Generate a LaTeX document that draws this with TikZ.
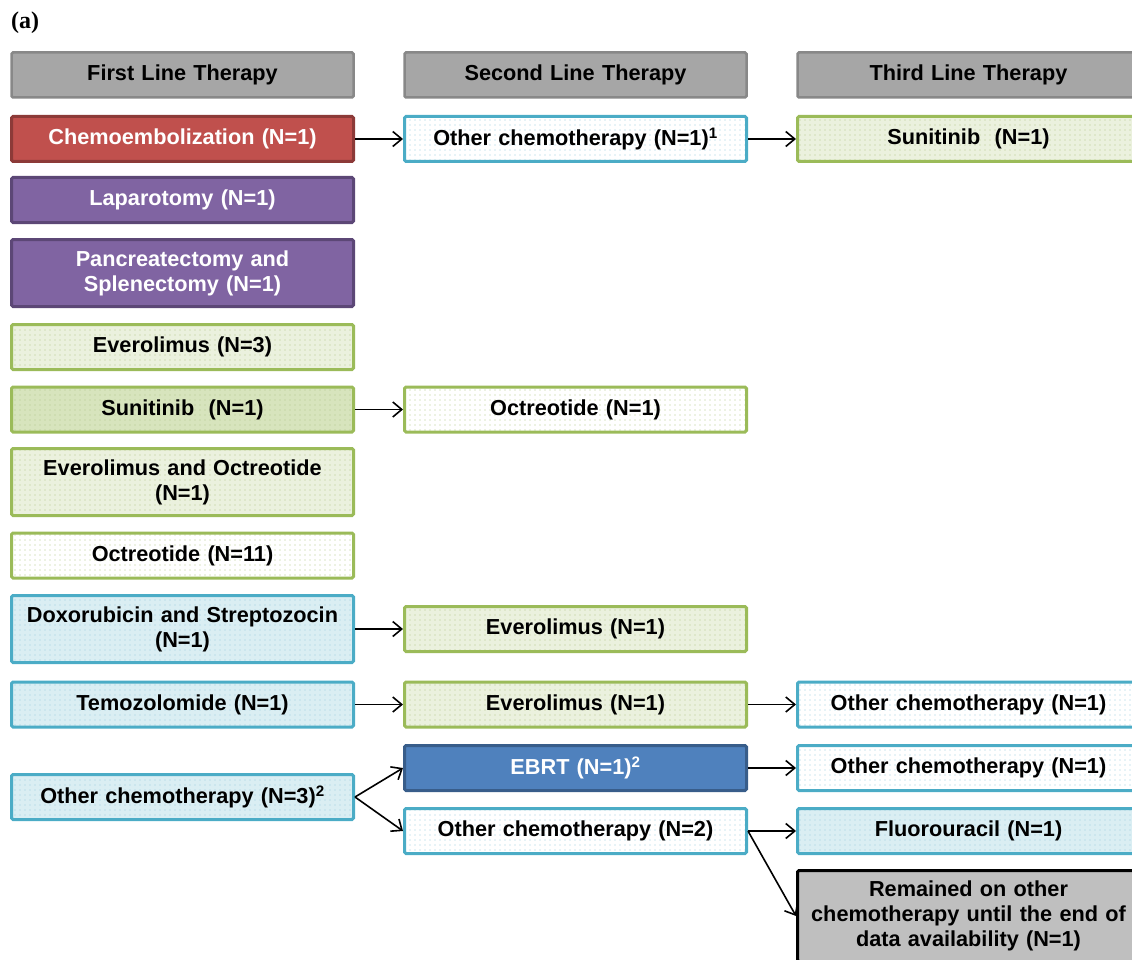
\documentclass[tikz,border=0pt]{standalone}
\usepackage{fontspec}
\setmainfont{Liberation Sans}
\newfontfamily\panelfont{Liberation Serif}
\usetikzlibrary{patterns.meta,arrows.meta}

\definecolor{hdrf}{HTML}{A6A6A6}
\definecolor{hdrl}{HTML}{888888}
\definecolor{redf}{HTML}{C0504D}
\definecolor{redl}{HTML}{8C3A38}
\definecolor{purf}{HTML}{8064A2}
\definecolor{purl}{HTML}{5C4776}
\definecolor{grnl}{HTML}{9BBB59}
\definecolor{grnf}{HTML}{EBF1DE}
\definecolor{grnd}{HTML}{D7E4BD}
\definecolor{grndot}{HTML}{B3C98A}
\definecolor{bluel}{HTML}{4BACC6}
\definecolor{bluef}{HTML}{DAEEF3}
\definecolor{bluedot}{HTML}{9ACFDE}
\definecolor{ebrtf}{HTML}{4F81BD}
\definecolor{ebrtl}{HTML}{385D8A}
\definecolor{remf}{HTML}{BFBFBF}

\begin{document}
\begin{tikzpicture}[x=1pt,y=-1pt,->,>={Straight Barb[length=9pt,width=15pt]},line width=1.6pt]
  \def\ca{182.5}
  \def\cb{575.5}
  \def\cc{968.5}

\tikzstyle{box}=[rectangle,rounded corners=1.5pt,line width=3pt,minimum width=342pt,minimum height=45pt,text width=330pt,align=center,inner sep=0pt,font=\bfseries\fontsize{21.7}{25}\selectfont]
\tikzstyle{tall}=[minimum height=67pt]
\tikzstyle{hdr}=[box,fill=hdrf,draw=hdrl,line width=2.5pt]
\tikzstyle{redbox}=[box,fill=redf,draw=redl,text=white]
\tikzstyle{purbox}=[box,fill=purf,draw=purl,text=white]
\tikzstyle{ebrtbox}=[box,fill=ebrtf,draw=ebrtl,text=white]
\tikzstyle{grnbox}=[box,draw=grnl,preaction={fill=grnf},pattern={Dots[distance=5pt,radius=0.6pt]},pattern color=grndot]
\tikzstyle{grndark}=[grnbox,preaction={fill=grnd}]
\tikzstyle{grnwhite}=[grnbox,preaction={fill=white}]
\tikzstyle{bluebox}=[box,draw=bluel,preaction={fill=bluef},pattern={Dots[distance=5pt,radius=0.6pt]},pattern color=bluedot]
\tikzstyle{bluewhite}=[bluebox,preaction={fill=white}]
\tikzstyle{rembox}=[box,fill=remf,draw=black,minimum height=91pt]

\useasboundingbox (0,0) rectangle (1132,960);
\clip (0,0) rectangle (1132,960);

\node[anchor=west,font=\panelfont\bfseries\fontsize{24}{28}\selectfont] (lbl) at (7,23) {(a)};

% headers
\node[hdr] (H1) at (\ca,75) {First Line Therapy};
\node[hdr] (H2) at (\cb,75) {Second Line Therapy};
\node[hdr] (H3) at (\cc,75) {Third Line Therapy};

% first line
\node[redbox] (F1) at (\ca,139) {Chemoembolization (N=1)};
\node[purbox] (F2) at (\ca,200) {Laparotomy (N=1)};
\node[purbox][tall] (F3) at (\ca,273) {Pancreatectomy and\\Splenectomy (N=1)};
\node[grnbox] (F4) at (\ca,347) {Everolimus (N=3)};
\node[grndark] (F5) at (\ca,409.5) {Sunitinib\ \ (N=1)};
\node[grnbox][tall] (F6) at (\ca,482) {Everolimus and Octreotide\\(N=1)};
\node[grnwhite] (F7) at (\ca,555.5) {Octreotide (N=11)};
\node[bluebox][tall] (F8) at (\ca,629) {Doxorubicin and Streptozocin\\(N=1)};
\node[bluebox] (F9) at (\ca,704.5) {Temozolomide (N=1)};
\node[bluebox] (F10) at (\ca,797) {Other chemotherapy (N=3)\textsuperscript{2}};

% second line
\node[bluewhite] (S1) at (\cb,139) {Other chemotherapy (N=1)\textsuperscript{1}};
\node[grnwhite] (S2) at (\cb,409.5) {Octreotide (N=1)};
\node[grnbox] (S3) at (\cb,629) {Everolimus (N=1)};
\node[grnbox] (S4) at (\cb,704.5) {Everolimus (N=1)};
\node[ebrtbox] (S5) at (\cb,768) {EBRT (N=1)\textsuperscript{2}};
\node[bluewhite] (S6) at (\cb,831) {Other chemotherapy (N=2)};

% third line
\node[grnbox] (T1) at (\cc,139) {Sunitinib\ \ (N=1)};
\node[bluewhite] (T2) at (\cc,704.5) {Other chemotherapy (N=1)};
\node[bluewhite] (T3) at (\cc,768) {Other chemotherapy (N=1)};
\node[bluebox] (T4) at (\cc,831) {Fluorouracil (N=1)};
\node[rembox] (T5) at (\cc,916) {Remained on other\\chemotherapy until the end of\\data availability (N=1)};

\draw (F1) -- (S1);
\draw (S1) -- (T1);
\draw (F5) -- (S2);
\draw (F8) -- (S3);
\draw (F9) -- (S4);
\draw (S4) -- (T2);
\draw (F10.east) -- (S5.west);
\draw (F10.east) -- (S6.west);
\draw (S5) -- (T3);
\draw (S6) -- (T4);
\draw (S6.east) -- (T5.west);
\end{tikzpicture}
\end{document}
